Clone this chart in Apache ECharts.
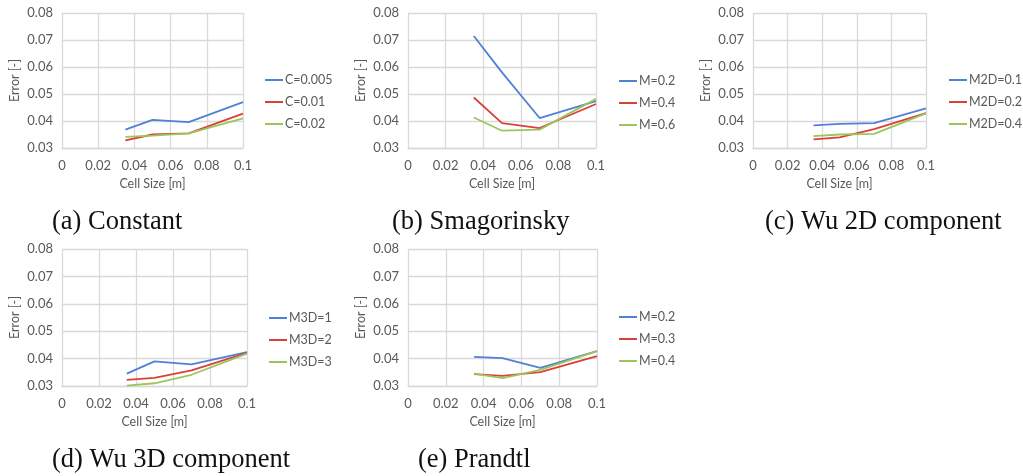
<!DOCTYPE html>
<html>
<head>
<meta charset="utf-8">
<script src="https://cdn.jsdelivr.net/npm/echarts@6/dist/echarts.min.js"></script>
<style>
html,body{margin:0;padding:0;background:#fff;}
#c{width:1023px;height:476px;}
</style>
</head>
<body>
<div id="c"></div>
<script>
// ---- data ----
const cellSizes = [0.035, 0.05, 0.07, 0.1];

const constNames = ['C=0.005', 'C=0.01', 'C=0.02'];
const constC0005 = [0.0368, 0.0404, 0.0396, 0.0470];
const constC001  = [0.0328, 0.0350, 0.0354, 0.0427];
const constC002  = [0.0341, 0.0346, 0.0354, 0.0410];

const smagNames = ['M=0.2', 'M=0.4', 'M=0.6'];
const smagM02 = [0.0715, 0.0580, 0.0411, 0.0474];
const smagM04 = [0.0487, 0.0392, 0.0374, 0.0463];
const smagM06 = [0.0413, 0.0364, 0.0368, 0.0482];

const wu2dNames = ['M2D=0.1', 'M2D=0.2', 'M2D=0.4'];
const wu2dM01 = [0.0384, 0.0389, 0.0392, 0.0447];
const wu2dM02 = [0.0332, 0.0339, 0.0370, 0.0429];
const wu2dM04 = [0.0344, 0.0350, 0.0352, 0.0428];

const wu3dNames = ['M3D=1', 'M3D=2', 'M3D=3'];
const wu3dM1 = [0.0345, 0.0390, 0.0379, 0.0424];
const wu3dM2 = [0.0322, 0.0330, 0.0357, 0.0421];
const wu3dM3 = [0.0301, 0.0310, 0.0341, 0.0418];

const prandtlNames = ['M=0.2', 'M=0.3', 'M=0.4'];
const prandtlM02 = [0.0406, 0.0402, 0.0366, 0.0427];
const prandtlM03 = [0.0343, 0.0337, 0.0351, 0.0409];
const prandtlM04 = [0.0345, 0.0329, 0.0359, 0.0427];

const captions = ['(a) Constant', '(b) Smagorinsky', '(c) Wu 2D component', '(d) Wu 3D component', '(e) Prandtl'];
const xTitle = 'Cell Size [m]';
const yTitle = 'Error [-]';

const seriesColors = ['#4f81d4', '#d9403a', '#9cc55a'];

const panels = [
  {names: constNames, vals: [constC0005, constC001, constC002]},
  {names: smagNames, vals: [smagM02, smagM04, smagM06]},
  {names: wu2dNames, vals: [wu2dM01, wu2dM02, wu2dM04]},
  {names: wu3dNames, vals: [wu3dM1, wu3dM2, wu3dM3]},
  {names: prandtlNames, vals: [prandtlM02, prandtlM03, prandtlM04]}
];

// ---- layout ----
const gridPos = [
  {left: 62, top: 13, width: 181, height: 135},
  {left: 408, top: 13, width: 188, height: 135},
  {left: 753, top: 13, width: 173, height: 135},
  {left: 62, top: 249, width: 185, height: 137},
  {left: 408, top: 249, width: 189, height: 137}
];
const legendPos = [
  {left: 265, top: 73},
  {left: 619, top: 74},
  {left: 949, top: 73},
  {left: 269, top: 311},
  {left: 619, top: 310}
];
const captionPos = [
  {x: 52, y: 223},
  {x: 392, y: 223},
  {x: 765, y: 223},
  {x: 52, y: 461},
  {x: 418, y: 461}
];

const sans = 'Lato';
const gridColor = '#d9d9d9';
const labelColor = '#595959';

const grid = [], xAxis = [], yAxis = [], series = [], legend = [], graphic = [];

panels.forEach((p, i) => {
  grid.push(Object.assign({containLabel: false}, gridPos[i]));
  xAxis.push({
    type: 'value', gridIndex: i, min: 0, max: 0.1, interval: 0.02,
    name: xTitle, nameLocation: 'middle', nameGap: 29,
    nameTextStyle: {color: labelColor, fontFamily: sans, fontSize: 12.5},
    axisLine: {show: true, lineStyle: {color: gridColor, width: 1.3}},
    axisTick: {show: false},
    splitLine: {show: true, lineStyle: {color: gridColor, width: 1.3}},
    axisLabel: {color: labelColor, fontFamily: sans, fontSize: 13, margin: 11,
      formatter: v => String(parseFloat(v.toFixed(2)))}
  });
  yAxis.push({
    type: 'value', gridIndex: i, min: 0.03, max: 0.08, interval: 0.01,
    name: yTitle, nameLocation: 'middle', nameGap: 41, nameRotate: 90,
    nameTextStyle: {color: labelColor, fontFamily: sans, fontSize: 12.5},
    axisLine: {show: false},
    axisTick: {show: false},
    splitLine: {show: true, lineStyle: {color: gridColor, width: 1.3}},
    axisLabel: {color: labelColor, fontFamily: sans, fontSize: 13, margin: 9,
      formatter: v => v.toFixed(2)}
  });
  const ids = [];
  p.names.forEach((nm, k) => {
    const id = 'p' + i + '|' + nm;
    ids.push(id);
    series.push({
      type: 'line', name: id, xAxisIndex: i, yAxisIndex: i,
      data: cellSizes.map((x, j) => [x, p.vals[k][j]]),
      symbol: 'none', showSymbol: false, smooth: false,
      color: seriesColors[k],
      lineStyle: {color: seriesColors[k], width: 1.8},
      animation: false
    });
  });
  legend.push({
    data: ids, orient: 'vertical', left: legendPos[i].left, top: legendPos[i].top,
    padding: 0,
    icon: 'rect', itemWidth: 18, itemHeight: 2, itemGap: 8,
    formatter: n => n.split('|')[1],
    textStyle: {color: labelColor, fontFamily: sans, fontSize: 12.5, padding: [0, 0, 0, -3], lineHeight: 14},
    selectedMode: false
  });
  graphic.push({
    type: 'text', left: captionPos[i].x, top: captionPos[i].y - 14,
    style: {text: captions[i], fill: '#111', font: '26.5px "Liberation Serif"'}
  });
});

const chart = echarts.init(document.getElementById('c'), null, {renderer: 'canvas'});
chart.setOption({
  animation: false,
  backgroundColor: '#fff',
  grid, xAxis, yAxis, series, legend, graphic
});
</script>
</body>
</html>
